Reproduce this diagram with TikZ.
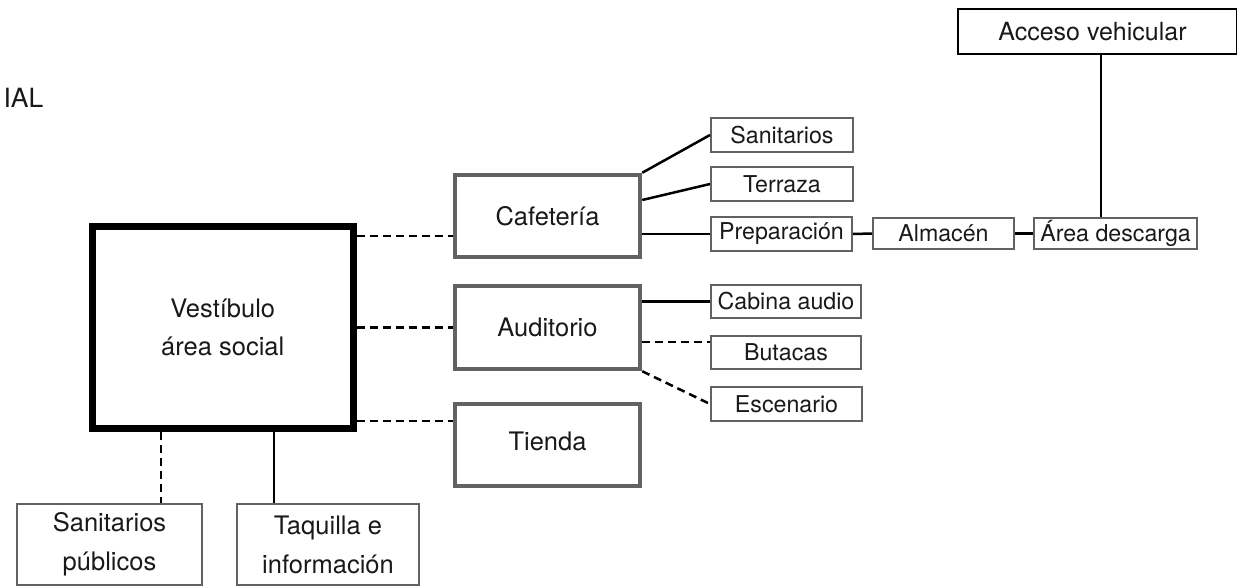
\documentclass[tikz,border=0pt]{standalone}
\usepackage{fontspec}
\setmainfont{TeX Gyre Heros}
\definecolor{boxgray}{RGB}{98,98,98}
\definecolor{txt}{RGB}{25,25,25}
\tikzset{
  every node/.style={text=txt},
  big/.style={draw=boxgray, line width=4.5pt, minimum width=185pt, minimum height=82pt, inner sep=0pt, font=\fontsize{25.5}{38}\selectfont},
  small/.style={draw=boxgray, line width=2pt, minimum height=34pt, inner sep=0pt, font=\fontsize{23.2}{30}\selectfont},
  bottombox/.style={draw=boxgray, line width=1.5pt, minimum width=185pt, minimum height=81pt, inner sep=0pt, align=center, font=\fontsize{25.5}{39}\selectfont},
  conn/.style={draw=black, line width=2.5pt},
  dconn/.style={draw=black, line width=2.5pt, dash pattern=on 8pt off 5pt},
}
\begin{document}
\begin{tikzpicture}[x=1pt,y=-1pt]
\useasboundingbox (0,0) rectangle (1237,586);

\node[anchor=base west, font=\fontsize{26.5}{30}\selectfont] (ial) at (0,107) {IAL};

\node[draw=black, line width=7pt, minimum width=260.5pt, minimum height=202pt, inner sep=0pt, align=center, font=\fontsize{25.5}{38.5}\selectfont] (vest) at (222.75,327.5) {Vestíbulo\\área social};

\node[big] (caf) at (547.5,216) {Cafetería};
\node[big, minimum height=83pt] (aud) at (547.5,327.5) {Auditorio};
\node[big] (tie) at (547.5,445) {\raisebox{8pt}{Tienda}};

\node[small, minimum width=142pt] (san) at (782,135) {Sanitarios};
\node[small, minimum width=142pt] (ter) at (782,184) {Terraza};
\node[small, minimum width=141pt] (pre) at (781.5,234) {Preparación};
\node[small, minimum width=150pt, minimum height=33pt] (cab) at (786,301.5) {Cabina audio};
\node[small, minimum width=150pt, minimum height=33pt] (but) at (786,352.5) {Butacas};
\node[small, minimum width=151pt] (esc) at (786.5,404) {Escenario};
\node[small, minimum width=141pt, minimum height=31pt] (alm) at (943.5,233.5) {Almacén};
\node[small, minimum width=163pt, minimum height=31pt] (are) at (1115.5,233.5) {Área descarga};
\node[draw=black, line width=2pt, minimum width=279pt, minimum height=45pt, inner sep=0pt, font=\fontsize{25}{30}\selectfont] (acc) at (1097.5,31.5) {\hspace*{-5pt}Acceso vehicular\hspace*{5pt}};

\node[bottombox] (sp) at (109.5,544.5) {Sanitarios\\públicos};
\node[bottombox, minimum width=182pt] (taq) at (328,544.5) {Taquilla e\\información};

% connectors from vestibulo
\draw[dconn] (vest.east |- 0,236) -- (caf.west |- 0,236);
\draw[dconn] (vest.east |- aud.west) -- (aud.west);
\draw[dconn] (vest.east |- 0,421) -- (tie.west |- 0,421);
\draw[dconn] (vest.south -| 161,0) -- (sp.north -| 161,0);
\draw[conn] (vest.south -| 274,0) -- (taq.north -| 274,0);

% cafeteria
\draw[conn] (caf.north east) -- (san.west);
\draw[conn] (caf.east |- 0,200) -- (ter.west);
\draw[conn] (caf.east |- pre.west) -- (pre.west);
\draw[conn] (pre.east) -- (alm.west);
\draw[conn] (alm.east) -- (are.west);
\draw[conn] (acc.south -| 1101,0) -- (are.north -| 1101,0);

% auditorio
\draw[conn] (aud.east |- cab.west) -- (cab.west);
\draw[dconn] (aud.east |- 0,342) -- (but.west |- 0,342);
\draw[dconn] (aud.south east) -- (esc.west);
\end{tikzpicture}
\end{document}
